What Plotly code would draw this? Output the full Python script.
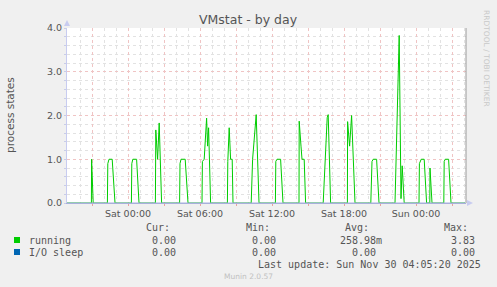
import plotly.graph_objects as go

# ---------------- data ----------------
running_t = [
    "2025-11-28 18:55", "2025-11-28 20:57", "2025-11-28 20:58", "2025-11-28 21:06",
    "2025-11-28 22:17", "2025-11-28 22:19", "2025-11-28 22:25", "2025-11-28 22:41", "2025-11-28 22:55",
    "2025-11-29 00:17", "2025-11-29 00:19", "2025-11-29 00:24", "2025-11-29 00:43", "2025-11-29 00:55",
    "2025-11-29 02:17", "2025-11-29 02:19", "2025-11-29 02:28", "2025-11-29 02:36", "2025-11-29 02:48",
    "2025-11-29 04:18", "2025-11-29 04:20", "2025-11-29 04:25", "2025-11-29 04:46", "2025-11-29 05:00",
    "2025-11-29 06:10", "2025-11-29 06:12", "2025-11-29 06:21", "2025-11-29 06:33", "2025-11-29 06:38", "2025-11-29 06:43", "2025-11-29 06:53",
    "2025-11-29 08:17", "2025-11-29 08:19", "2025-11-29 08:26", "2025-11-29 08:33", "2025-11-29 08:41", "2025-11-29 08:45",
    "2025-11-29 10:16", "2025-11-29 10:23", "2025-11-29 10:25", "2025-11-29 10:36", "2025-11-29 10:41", "2025-11-29 10:55",
    "2025-11-29 12:17", "2025-11-29 12:19", "2025-11-29 12:25", "2025-11-29 12:43", "2025-11-29 12:55",
    "2025-11-29 14:15", "2025-11-29 14:16", "2025-11-29 14:25", "2025-11-29 14:30", "2025-11-29 14:41", "2025-11-29 14:48",
    "2025-11-29 16:16", "2025-11-29 16:26", "2025-11-29 16:36", "2025-11-29 16:41", "2025-11-29 16:53",
    "2025-11-29 18:17", "2025-11-29 18:18", "2025-11-29 18:28", "2025-11-29 18:35", "2025-11-29 18:38", "2025-11-29 18:55",
    "2025-11-29 20:14", "2025-11-29 20:20", "2025-11-29 20:26", "2025-11-29 20:43", "2025-11-29 20:55",
    "2025-11-29 22:15", "2025-11-29 22:26", "2025-11-29 22:36", "2025-11-29 22:45", "2025-11-29 22:51", "2025-11-29 23:01",
    "2025-11-30 00:15", "2025-11-30 00:17", "2025-11-30 00:26", "2025-11-30 00:41", "2025-11-30 00:53",
    "2025-11-30 01:09", "2025-11-30 01:10", "2025-11-30 01:20",
    "2025-11-30 02:19", "2025-11-30 02:21", "2025-11-30 02:26", "2025-11-30 02:43", "2025-11-30 02:55",
    "2025-11-30 04:05",
]
running_v = [
    0, 0, 1.0, 0,
    0, 0.9, 1.0, 1.0, 0,
    0, 0.9, 1.0, 1.0, 0,
    0, 1.67, 1.0, 1.83, 0,
    0, 0.9, 1.0, 1.0, 0,
    0, 0.95, 1.0, 1.94, 1.3, 1.72, 0,
    0, 0.95, 1.72, 1.0, 1.0, 0,
    0, 1.0, 1.1, 1.71, 2.02, 0,
    0, 0.95, 1.0, 1.0, 0,
    0, 1.87, 1.3, 1.0, 1.0, 0,
    0, 1.0, 1.95, 2.02, 0,
    0, 1.86, 1.3, 2.0, 2.0, 0,
    0, 0.95, 1.0, 1.0, 0,
    0, 1.94, 3.83, 0.1, 0.85, 0,
    0, 0.9, 1.0, 1.0, 0,
    0, 0.8, 0,
    0, 0.95, 1.0, 1.0, 0,
    0,
]
iosleep_t = ["2025-11-28 18:55", "2025-11-30 04:05"]
iosleep_v = [0, 0]

series_names = ["running", "I/O sleep"]
series_colors = ["#00CC00", "#0066B3"]
stat_headers = ["Cur:", "Min:", "Avg:", "Max:"]
stats = [
    ["0.00", "0.00", "258.98m", "3.83"],
    ["0.00", "0.00", "0.00", "0.00"],
]

x_tick_vals = ["2025-11-28 21:00", "2025-11-29 00:00", "2025-11-29 03:00", "2025-11-29 06:00",
               "2025-11-29 09:00", "2025-11-29 12:00", "2025-11-29 15:00", "2025-11-29 18:00",
               "2025-11-29 21:00", "2025-11-30 00:00", "2025-11-30 03:00"]
x_tick_text = ["", "Sat 00:00", "", "Sat 06:00", "", "Sat 12:00", "", "Sat 18:00", "", "Sun 00:00", ""]
x_range = ["2025-11-28 18:55", "2025-11-30 04:10"]
y_range = [0, 4]

title = "VMstat - by day"
y_title = "process states"
last_update = "Last update: Sun Nov 30 04:05:20 2025"
footer = "Munin 2.0.57"
side_text = "RRDTOOL / TOBI OETIKER"

# ---------------- layout helpers ----------------
W, H = 497, 287
L, R, T, B = 67, 466, 28, 203


def px(x):
    return (x - L) / (R - L)


def py(y):
    return (B - y) / (B - T)


fig = go.Figure()
fig.add_trace(go.Scatter(x=running_t, y=running_v, mode="lines",
                         line=dict(color=series_colors[0], width=1), name=series_names[0]))
fig.add_trace(go.Scatter(x=iosleep_t, y=iosleep_v, mode="lines",
                         line=dict(color="#a8b0dc", width=1), name=series_names[1]))

font = "DejaVu Sans"
mono = "DejaVu Sans Mono"
grey = "#555555"

fig.update_layout(
    width=W, height=H,
    margin=dict(l=L, r=W - R, t=T, b=H - B),
    paper_bgcolor="#F0F0F0", plot_bgcolor="#FFFFFF",
    showlegend=False,
    font=dict(family=font, size=10, color=grey),
)
fig.update_xaxes(
    type="date", range=x_range,
    tickmode="array", tickvals=x_tick_vals, ticktext=x_tick_text,
    showgrid=True, gridcolor="#F0C4C4", griddash="dot", gridwidth=1,
    ticks="outside", ticklen=2, tickcolor="#E8A0A0",
    tickfont=dict(family=font, size=9.5, color=grey),
    minor=dict(dtick=3600000, tick0="2025-11-29 00:00", showgrid=True,
               gridcolor="#E2E2E2", griddash="dot", gridwidth=1, ticks=""),
    showline=True, linecolor="#A8B0DC", linewidth=1,
    zeroline=False, fixedrange=True,
)
fig.update_yaxes(
    range=y_range, dtick=1, tick0=0, tickformat=".1f",
    showgrid=True, gridcolor="#F0C4C4", griddash="dot", gridwidth=1,
    ticks="outside", ticklen=2, tickcolor="#C8CCE8",
    tickfont=dict(family=font, size=9.5, color=grey),
    minor=dict(dtick=0.2, showgrid=True, gridcolor="#E2E2E2", griddash="dot",
               gridwidth=1, ticks="outside", ticklen=2, tickcolor="#C8CCE8"),
    showline=True, linecolor="#C8CCF0", linewidth=1,
    zeroline=False, fixedrange=True,
)

shapes = []
# right border
shapes.append(dict(type="line", xref="paper", yref="paper", x0=1, x1=1, y0=0, y1=1,
                   line=dict(color="#999999", width=1)))
# axis arrows
shapes.append(dict(type="path", xref="paper", yref="paper",
                   path=f"M {px(64)},{py(26)} L {px(70)},{py(26)} L {px(67)},{py(20)} Z",
                   fillcolor="#C8CCF0", line=dict(width=0)))
shapes.append(dict(type="path", xref="paper", yref="paper",
                   path=f"M {px(467)},{py(200)} L {px(467)},{py(206)} L {px(473)},{py(203)} Z",
                   fillcolor="#C8CCF0", line=dict(width=0)))


def text(t, x, y, size=10, fam=mono, color=grey, xanchor="center", angle=0):
    return dict(text=t, x=px(x), y=py(y), xref="paper", yref="paper",
                xanchor=xanchor, yanchor="middle", showarrow=False, textangle=angle,
                font=dict(family=fam, size=size, color=color))


ann = []
ann.append(text(title, 248, 19, 12.5, font))
ann.append(text(y_title, 10, 115, 10.5, font, angle=-90))
ann.append(text(side_text, 486, 58, 7.5, font, "#C8C8C8", angle=90))

header_right = [172, 272, 371, 470]
for h, xr in zip(stat_headers, header_right):
    ann.append(text(h, xr, 227, xanchor="right"))

row_y = [240, 252]
for i, (name, col) in enumerate(zip(series_names, series_colors)):
    yy = row_y[i]
    shapes.append(dict(type="rect", xref="paper", yref="paper",
                       x0=px(14), x1=px(20), y0=py(yy + 3), y1=py(yy - 3),
                       fillcolor=col, line=dict(width=0)))
    ann.append(text(name, 27, yy, xanchor="left"))
    for j, v in enumerate(stats[i]):
        right = [178, 278, 378, 477][j]
        if v.endswith("m"):
            right += 6
        ann.append(text(v, right, yy, xanchor="right"))

ann.append(text(last_update, 483, 264, xanchor="right"))
ann.append(text(footer, 248, 276, 7.5, font, "#C0C0C0"))

fig.update_layout(shapes=shapes, annotations=ann)
fig.write_html("out.html")
